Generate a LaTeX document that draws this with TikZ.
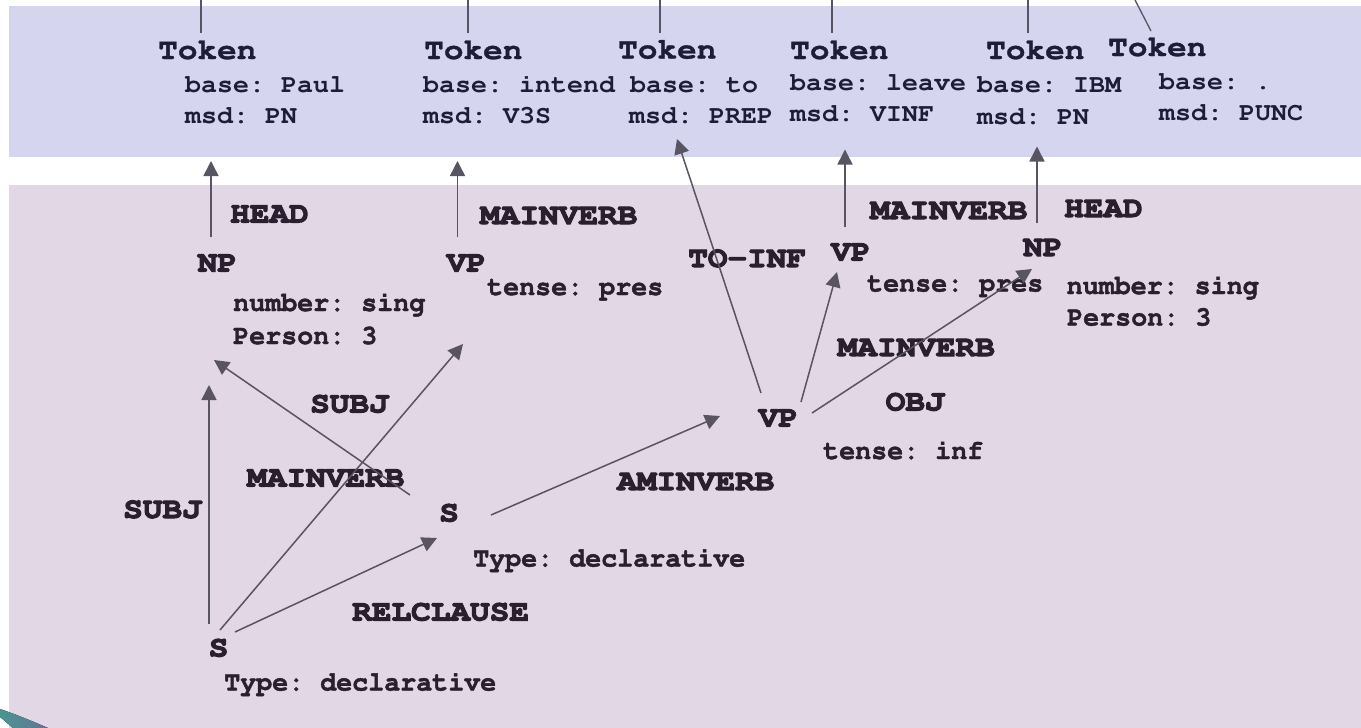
\documentclass[tikz,border=0pt]{standalone}
\usepackage[T1]{fontenc}
\usepackage{graphicx}
\usetikzlibrary{arrows.meta}
\definecolor{bluepanel}{RGB}{213,213,240}
\definecolor{pinkpanel}{RGB}{225,215,229}
\definecolor{toptext}{RGB}{30,28,56}
\definecolor{lowtext}{RGB}{40,32,46}
\definecolor{edgecol}{RGB}{88,84,98}
\definecolor{tealA}{RGB}{70,150,145}
\definecolor{tealB}{RGB}{105,115,150}
\newcommand\cour[1]{\fontencoding{T1}\fontfamily{pcr}\fontseries{b}\fontshape{n}\fontsize{#1}{#1}\selectfont\frenchspacing}
\newcommand\heavy[2]{\special{pdf:literal 2 Tr #1 w}#2\special{pdf:literal 0 Tr}}
\newcommand\wA[1]{\scalebox{1.11}[1]{\heavy{0.3}{#1}}}
\newcommand\wC[1]{\scalebox{1.11}[1]{\heavy{1.0}{#1}}}
\newcommand\wB[1]{\scalebox{1.045}[1]{#1}}
\newcommand\wD[1]{\scalebox{0.97}[1]{\heavy{0.4}{#1}}}
\tikzset{
  tokname/.style={anchor=base west,inner sep=0pt,text=toptext,font=\cour{29.5}},
  tokattr/.style={anchor=base west,inner sep=0pt,text=toptext,font=\cour{25.5}},
  cat/.style={anchor=base west,inner sep=0pt,text=lowtext,font=\cour{29.5}},
  feat/.style={anchor=base west,inner sep=0pt,text=lowtext,font=\cour{27.5}},
  link/.style={draw=edgecol,line width=1.5pt,-{Triangle[width=15pt,length=15pt]}},
  topline/.style={draw=edgecol,line width=1.3pt},
}
\begin{document}
\begin{tikzpicture}[x=1pt,y=-1pt]
\useasboundingbox (0,0) rectangle (1361,728);
% panels
\fill[bluepanel] (9,6) rectangle (1361,157);
\fill[pinkpanel] (9,185) rectangle (1361,728);
\fill[left color=tealA,right color=tealB] (0,709) .. controls (15,714) and (32,721) .. (48,728) -- (13,728) .. controls (8,724) and (4,720) .. (0,717) -- cycle;

% tokens
\node[tokname] (t1) at (158,59) {\wA{Token}};
\node[tokattr] (t1b) at (185,92.5) {\wB{base: Paul}};
\node[tokattr] (t1m) at (185,123) {\wB{msd: PN}};
\node[tokname] (t2) at (424,59) {\wA{Token}};
\node[tokattr] (t2b) at (423,92.5) {\wB{base: intend}};
\node[tokattr] (t2m) at (423,123) {\wB{msd: V3S}};
\node[tokname] (t3) at (618,58.5) {\wA{Token}};
\node[tokattr] (t3b) at (630,92.5) {\wB{base: to}};
\node[tokattr] (t3m) at (629,123) {\wB{msd: PREP}};
\node[tokname] (t4) at (790,59) {\wA{Token}};
\node[tokattr] (t4b) at (790,90.5) {\wB{base: leave}};
\node[tokattr] (t4m) at (790,121.5) {\wB{msd: VINF}};
\node[tokname] (t5) at (986,59) {\wA{Token}};
\node[tokattr] (t5b) at (977,92) {\wB{base: IBM}};
\node[tokattr] (t5m) at (977,124) {\wB{msd: PN}};
\node[tokname] (t6) at (1108,56) {\wA{Token}};
\node[tokattr] (t6b) at (1159,89) {\wB{base: .}};
\node[tokattr] (t6m) at (1159,120.5) {\wB{msd: PUNC}};

% lines leaving the picture at the top
\coordinate (u1) at (201,0);   \coordinate (d1) at (201,33);
\coordinate (u2) at (468,0);   \coordinate (d2) at (468,33);
\coordinate (u3) at (660,0);   \coordinate (d3) at (660,33);
\coordinate (u4) at (832,0);   \coordinate (d4) at (832,33);
\coordinate (u5) at (1028,0);  \coordinate (d5) at (1028,33);
\coordinate (u6) at (1135,0);  \coordinate (d6) at (1151,31);
\foreach \i in {1,...,6} {\draw[topline] (u\i) -- (d\i);}

% phrase nodes
\node[cat] (np1) at (197.5,271.5) {\wC{NP}};
\node[feat] (np1a) at (233,311) {\wD{number: sing}};
\node[feat] (np1b) at (233,344) {\wD{Person: 3}};
\node[cat] (vp1) at (446.5,271.5) {\wC{VP}};
\node[feat] (vp1a) at (487,295) {\wD{tense: pres}};
\node[cat] (vp2) at (831,260.5) {\wC{VP}};
\node[feat] (vp2a) at (867,291.5) {\wD{tense: pres}};
\node[cat] (np2) at (1023,256) {\wC{NP}};
\node[feat] (np2a) at (1066.5,294) {\wD{number: sing}};
\node[feat] (np2b) at (1067,325.5) {\wD{Person: 3}};
\node[cat] (vpi) at (758.5,426.5) {\wC{VP}};
\node[feat] (vpia) at (823,459) {\wD{tense: inf}};
\node[cat] (sm) at (439,521.5) {\wC{S}};
\node[feat] (sma) at (473,566.5) {\wD{Type: declarative}};
\node[cat] (sb) at (208.5,656.5) {\wC{S}};
\node[feat] (sba) at (224,690.5) {\wD{Type: declarative}};

% relation labels
\node[cat] (l1) at (230,222.5) {\wC{HEAD}};
\node[cat] (l2) at (480,224) {\wC{MAINVERB}};
\node[cat] (l3) at (870,219) {\wC{MAINVERB}};
\node[cat] (l4) at (1064,217) {\wC{HEAD}};
\node[cat] (l5) at (688,267) {\wC{TO-INF}};
\node[cat] (l6) at (837.5,356) {\wC{MAINVERB}};
\node[cat] (l7) at (885.5,410.5) {\wC{OBJ}};
\node[cat] (l8) at (310,412.5) {\wC{SUBJ}};
\node[cat] (l9) at (247,486.5) {\wC{MAINVERB}};
\node[cat] (l10) at (123,518) {\wC{SUBJ}};
\node[cat] (l11) at (617,490) {\wC{AMINVERB}};
\node[cat] (l12) at (352,620.5) {\wC{RELCLAUSE}};

% connector end points
\coordinate (np1up) at (211,237);  \coordinate (t1in) at (211,161);
\coordinate (vp1up) at (457.5,237); \coordinate (t2in) at (457.5,161);
\coordinate (vpiup) at (761,393);  \coordinate (t3in) at (677,139);
\coordinate (vp2up) at (845,227);  \coordinate (t4in) at (845,149.5);
\coordinate (np2up) at (1037,223); \coordinate (t5in) at (1037,146.5);
\coordinate (smsubj) at (410,495); \coordinate (np1in) at (214,360);
\coordinate (sbmain) at (220,630); \coordinate (vp1in) at (463,344);
\coordinate (sbsubj) at (209,624); \coordinate (np1low) at (209,385);
\coordinate (sbrel) at (235,632);  \coordinate (smin) at (437,538);
\coordinate (smout) at (491,515);  \coordinate (vpiin) at (720,416);
\coordinate (vpimv) at (801,402);  \coordinate (vp2in) at (837,272);
\coordinate (vpiobj) at (812,413); \coordinate (np2in) at (1032,269);

\draw[link] (np1up) -- (t1in);
\draw[link] (vp1up) -- (t2in);
\draw[link] (vpiup) -- (t3in);
\draw[link] (vp2up) -- (t4in);
\draw[link] (np2up) -- (t5in);
\draw[link] (smsubj) -- (np1in);
\draw[link] (sbmain) -- (vp1in);
\draw[link] (sbsubj) -- (np1low);
\draw[link] (sbrel) -- (smin);
\draw[link] (smout) -- (vpiin);
\draw[link] (vpimv) -- (vp2in);
\draw[link] (vpiobj) -- (np2in);
\end{tikzpicture}
\end{document}
